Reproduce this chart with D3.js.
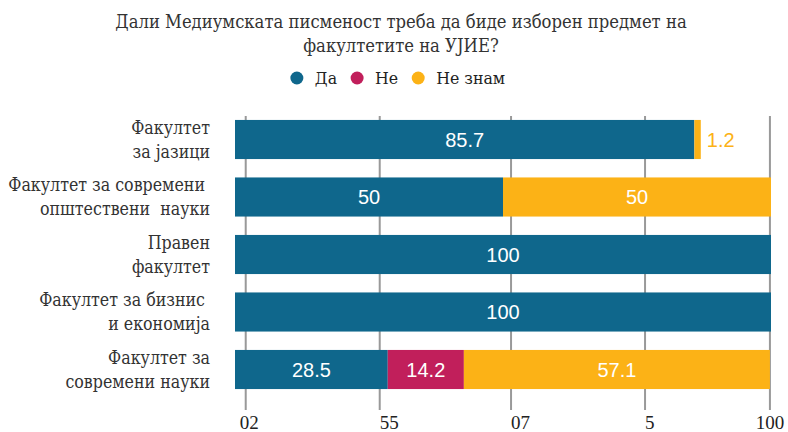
<!DOCTYPE html>
<html>
<head>
<meta charset="utf-8">
<title>Медиумска писменост</title>
<script src="https://cdn.jsdelivr.net/npm/d3@7"></script>
<style>
  body { margin: 0; background: #fff; }
  text { white-space: pre; }
</style>
</head>
<body>
<div id="chart"></div>
<script>

// data
var categories = [
  ["Факултет", "за јазици"],
  ["Факултет за современи ", "општествени  науки"],
  ["Правен", "факултет"],
  ["Факултет за бизнис ", "и економија"],
  ["Факултет за", "современи науки"]
];
var titleLines = ["Дали Медиумската писменост треба да биде изборен предмет на", "факултетите на УЈИЕ?"];
var seriesNames = ["Да", "Не", "Не знам"];
var da     = [85.7, 50, 100, 100, 28.5];
var ne     = [0, 0, 0, 0, 14.2];
var neZnam = [1.2, 50, 0, 0, 57.1];
var tickValues = [2, 27, 51.5, 76.5, 99.8];
var tickLabels = ["02", "55", "07", "5", "100"];
var colors = ["#0f678c", "#c11f5b", "#fcb216"];

var w = 788, h = 432;
// Liberation Serif here has no cyrillic, DejaVu Serif does
var serif = "DejaVu Serif Condensed, DejaVu Serif, serif";
var digits = "Liberation Serif, serif";
var sans = "Liberation Sans, Arial, sans-serif";

var svg = d3.select("#chart").append("svg")
    .attr("width", w)
    .attr("height", h);

// pick a font size so that a string gets the width it has in the picture
function fitSize(str, width, base) {
  var t = svg.append("text").attr("font-family", serif).attr("font-size", 20).text(str);
  var len = t.node().getComputedTextLength();
  t.remove();
  return Math.min(base, 20 * width / len);
}
var titleSize = fitSize(titleLines[0], 572, 21);
var catSize = fitSize("Факултет за современи", 197, 19);
var legSize = fitSize("Не знам", 69, 20);

var x = d3.scaleLinear().domain([0, 100]).range([235, 771]);
var y = d3.scaleBand()
    .domain(d3.range(categories.length))
    .range([110.75, 398.25])
    .paddingInner(0.32)
    .paddingOuter(0.16);

// title
svg.append("text")
    .attr("x", 403).attr("y", 28)
    .attr("text-anchor", "middle")
    .attr("font-family", serif).attr("font-size", titleSize).attr("fill", "#333")
    .selectAll("tspan")
    .data(titleLines)
    .enter().append("tspan")
    .attr("x", 401)
    .attr("dy", function(d, i) { return i ? 24 : 0; })
    .text(function(d) { return d; });

// legend
var legend = svg.append("g");
var lx = 0;
seriesNames.forEach(function(name, i) {
  var g = legend.append("g").attr("transform", "translate(" + lx + ",0)");
  g.append("circle").attr("cx", 6).attr("cy", -6).attr("r", 6.5).attr("fill", colors[i]);
  var t = g.append("text").attr("x", 24).attr("y", 0)
      .attr("font-family", serif).attr("font-size", legSize).attr("fill", "#222")
      .text(name);
  lx += 24 + t.node().getComputedTextLength() + 14;
});
lx -= 14;
legend.attr("transform", "translate(" + (398 - lx / 2) + ",84)");

// gridlines
svg.append("g").selectAll("line")
    .data(tickValues)
    .enter().append("line")
    .attr("x1", function(d) { return x(d); })
    .attr("x2", function(d) { return x(d); })
    .attr("y1", 116).attr("y2", 410)
    .attr("stroke", "#999").attr("stroke-width", 2);

// tick labels
svg.append("g").selectAll("text")
    .data(tickValues)
    .enter().append("text")
    .attr("x", function(d, i) { return i == 0 ? x(d) - 6 : x(d); })
    .attr("y", 429)
    .attr("text-anchor", function(d, i) { return i == tickValues.length - 1 ? "middle" : "start"; })
    .attr("font-family", digits).attr("font-size", 19).attr("fill", "#222")
    .text(function(d, i) { return tickLabels[i]; });

// stacked bars
var rows = categories.map(function(c, i) {
  var vals = [da[i], ne[i], neZnam[i]];
  var start = 0;
  return vals.map(function(v, k) {
    var seg = {row: i, k: k, v: v, x0: start, x1: start + v};
    start += v;
    return seg;
  }).filter(function(s) { return s.v > 0; });
});
var segs = [].concat.apply([], rows);

svg.append("g").selectAll("rect")
    .data(segs)
    .enter().append("rect")
    .attr("x", function(d) { return x(d.x0); })
    .attr("width", function(d) { return x(d.x1) - x(d.x0); })
    .attr("y", function(d) { return y(d.row); })
    .attr("height", y.bandwidth())
    .attr("fill", function(d) { return colors[d.k]; });

// value labels
svg.append("g").selectAll("text")
    .data(segs)
    .enter().append("text")
    .attr("x", function(d) {
      return d.v < 5 ? x(d.x1) + 6 : (x(d.x0) + x(d.x1)) / 2;
    })
    .attr("y", function(d) { return y(d.row) + y.bandwidth() / 2 + 7; })
    .attr("text-anchor", function(d) { return d.v < 5 ? "start" : "middle"; })
    .attr("font-family", sans).attr("font-size", 20)
    .attr("fill", function(d) { return d.v < 5 ? colors[d.k] : "#fff"; })
    .text(function(d) { return d.v; });

// category labels
var cat = svg.append("g").selectAll("text")
    .data(categories)
    .enter().append("text")
    .attr("text-anchor", "end")
    .attr("y", function(d, i) { return y(i) + y.bandwidth() / 2 - 6; })
    .attr("font-family", serif).attr("font-size", catSize).attr("fill", "#333");
cat.selectAll("tspan")
    .data(function(d) { return d; })
    .enter().append("tspan")
    .attr("x", 210)
    .attr("dy", function(d, i) { return i ? 24 : 0; })
    .text(function(d) { return d; });

</script>
</body>
</html>
